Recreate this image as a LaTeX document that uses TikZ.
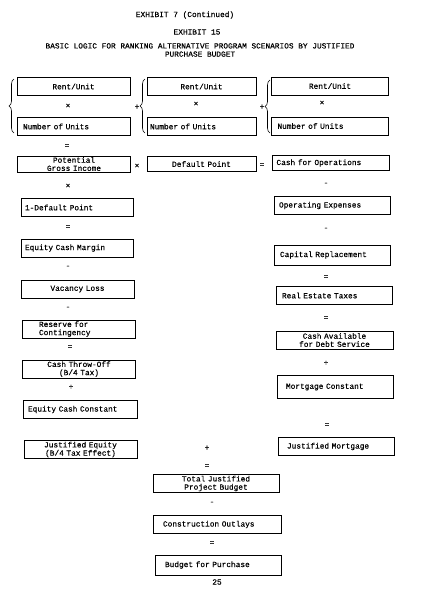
\documentclass[tikz,border=0pt]{standalone}
\usepackage{fontspec}
\setmainfont{Liberation Mono}[FakeBold=0.4]
\usepackage{tikz}
\usetikzlibrary{decorations.pathreplacing}

\begin{document}
\begin{tikzpicture}[x=1pt,y=-1pt,
  every node/.style={font=\fontsize{7.8}{8.2}\selectfont},
  box/.style={draw, line width=0.7pt, minimum height=18pt, inner xsep=6pt, inner ysep=1pt},
  colA/.style={text width=101pt},
  colB/.style={text width=97pt},
  colC/.style={text width=105pt},
  colD/.style={text width=114pt},
  op/.style={inner sep=0pt},
  grp/.style={decorate, decoration={brace, amplitude=5pt}, line width=0.6pt}]
\useasboundingbox (0,0) rectangle (433,600);

% headings
\node (hdA) at (185,15) {EXHIBIT 7 (Continued)};
\node (hdB) at (197,32) {EXHIBIT 15};
\node[align=center] (hdC) at (200,50) {BASIC LOGIC FOR RANKING ALTERNATIVE PROGRAM SCENARIOS BY JUSTIFIED\\PURCHASE BUDGET};

% top row: three rent x units groups
\node[box, colA, align=center] (rentA) at (73.5,86.5) {Rent/Unit};
\node[op] (timesA) at (68,106) {×};
\node[box, colA, align=left] (unitsA) at (73.5,126.5) {Number of Units};
\draw[grp] (14,133) -- (14,79);
\node[op] (plusA) at (137,107) {+};

\node[box, colB, align=center] (rentB) at (201.5,86.5) {Rent/Unit};
\node[op] (timesB) at (196,104) {×};
\node[box, colB, align=left, inner xsep=3pt, text width=103pt] (unitsB) at (201.5,126.5) {Number of Units};
\draw[grp] (145,133) -- (145,79);
\node[op] (plusB) at (262,107) {+};

\node[box, colC, align=center] (rentC) at (330,86) {Rent/Unit};
\node[op] (timesC) at (322,103) {×};
\node[box, colC, align=left] (unitsC) at (330,126) {Number of Units};
\draw[grp] (270,133) -- (270,80);

\node[op] (eqA) at (67,146) {=};

% second row
\node[box, colA, align=center, minimum height=15pt] (pgi) at (74,164) {Potential\\Gross Income};
\node[op] (timesD) at (137,166) {×};
\node[box, colB, align=center, minimum height=15pt] (dflt) at (201.5,164) {Default Point};
\node[op] (eqB) at (262,165) {=};
\node[box, colC, align=left, minimum height=15pt, inner xsep=4pt, text width=109pt] (cfo) at (331,163) {Cash for Operations};

% left column
\node[op] (timesE) at (68,186) {×};
\node[box, colA, align=left, inner xsep=4pt, text width=104pt] (oneDflt) at (77,207.5) {1-Default Point};
\node[op] (eqC) at (68,227) {=};
\node[box, colA, align=left, inner xsep=4pt, text width=104pt] (ecm) at (77,248) {Equity Cash Margin};
\node[op] (minA) at (68,267) {-};
\node[box, colA, align=center] (vac) at (77.5,289) {Vacancy Loss};
\node[op] (minB) at (68,308) {-};
\node[box, colA, align=left, inner xsep=17pt, text width=79pt] (res) at (78.5,329) {Reserve for\\Contingency};
\node[op] (eqD) at (70,347) {=};
\node[box, colA, align=center] (cto) at (79,369) {Cash Throw-Off\\(B/4 Tax)};
\node[op] (divA) at (71,387) {÷};
\node[box, colA, align=left, inner xsep=5pt, text width=104pt] (ecc) at (80,409.5) {Equity Cash Constant};
\node[box, colA, align=center] (je) at (80.5,449.5) {Justified Equity\\(B/4 Tax Effect)};

% right column
\node[op] (minD) at (326,184) {-};
\node[box, colC, align=left, inner xsep=5pt, text width=106pt] (opex) at (332,205.5) {Operating Expenses};
\node[op] (minE) at (326,229) {-};
\node[box, colC, align=left, inner xsep=6pt, text width=104pt, minimum height=20pt] (capr) at (332,255) {Capital Replacement};
\node[op] (eqG) at (326,277) {=};
\node[box, colC, align=left, inner xsep=6pt, text width=104pt] (ret) at (334,295.5) {Real Estate Taxes};
\node[op] (eqH) at (326,318) {=};
\node[box, colC, align=center] (cads) at (334.5,340) {Cash Available\\for Debt Service};
\node[op] (divB) at (326,363) {÷};
\node[box, colC, align=left, inner xsep=9pt, text width=98pt, minimum height=23pt] (mc) at (335,387) {Mortgage Constant};
\node[op] (eqI) at (327,425) {=};
\node[box, colC, align=left, inner xsep=9pt, text width=98pt] (jm) at (336,446.5) {Justified Mortgage};

% bottom
\node[op] (plusC) at (207,448) {+};
\node[op] (eqE) at (207,466) {=};
\node[box, colD, align=center] (tjpb) at (216,483.5) {Total Justified\\Project Budget};
\node[op] (minC) at (212,503) {-};
\node[box, colD, align=left, inner xsep=10pt, text width=108pt] (co) at (217,524.5) {Construction Outlays};
\node[op] (eqF) at (212,543) {=};
\node[box, colD, align=left, inner xsep=10pt, text width=106pt, minimum height=20pt] (bfp) at (218,565) {Budget for Purchase};
\node (pgno) at (217,582) {25};
\end{tikzpicture}
\end{document}
